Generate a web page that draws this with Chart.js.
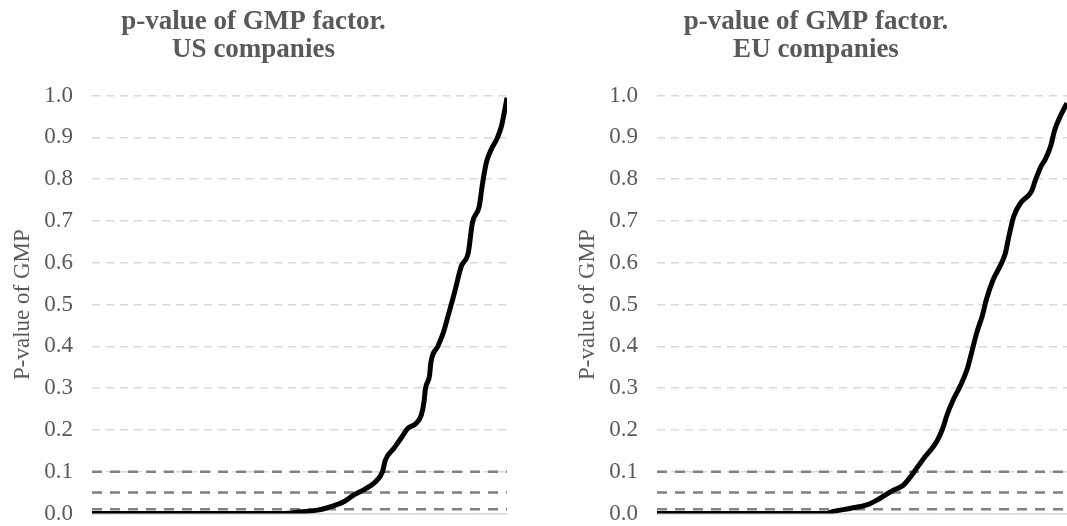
<!DOCTYPE html>
<html>
<head>
<meta charset="utf-8">
<script src="https://cdn.jsdelivr.net/npm/chart.js@4"></script>
<style>
  body { margin: 0; background: #fff; }
  #wrap { position: relative; width: 1067px; height: 526px; overflow: hidden; }
  .box { position: absolute; top: 0; height: 526px; }
</style>
</head>
<body>
<div id="wrap">
  <div class="box" style="left:0;width:510px"><canvas id="chartUS"></canvas></div>
  <div class="box" style="left:565px;width:502px"><canvas id="chartEU"></canvas></div>
</div>
<script>
// companies ranked by p-value (rank out of 300)
const usRank = [0, 138, 151, 163, 175, 182, 189, 197, 205, 210, 212, 218, 224, 228, 234, 238, 240, 241, 244, 245, 250, 254, 258, 262, 267, 272, 275, 280, 282, 285, 288, 293, 296, 298, 300];
const usP = [0, 0, 0.004, 0.008, 0.019, 0.028, 0.044, 0.058, 0.076, 0.100, 0.127, 0.155, 0.183, 0.203, 0.215, 0.235, 0.267, 0.298, 0.330, 0.362, 0.400, 0.433, 0.480, 0.528, 0.592, 0.624, 0.696, 0.736, 0.783, 0.839, 0.867, 0.899, 0.927, 0.959, 0.995];

const euRank = [0, 124, 129, 141, 154, 163, 173, 180, 188, 195, 201, 205, 209, 212, 217, 222, 227, 229, 234, 238, 241, 246, 251, 255, 257, 261, 266, 274, 277, 281, 284, 288, 291, 295, 300];
const euP = [0, 0, 0.005, 0.012, 0.021, 0.036, 0.056, 0.067, 0.099, 0.131, 0.155, 0.174, 0.203, 0.234, 0.274, 0.306, 0.346, 0.370, 0.433, 0.473, 0.512, 0.560, 0.592, 0.624, 0.656, 0.711, 0.743, 0.771, 0.799, 0.831, 0.847, 0.879, 0.918, 0.950, 0.982];

// significance levels
const thresholds = [0.1, 0.05, 0.01];
const yTicks = [0, 0.1, 0.2, 0.3, 0.4, 0.5, 0.6, 0.7, 0.8, 0.9, 1.0];

const serif = "'Liberation Serif', 'Times New Roman', serif";
const grey = '#595959';

function makeChart(id, titleLines, ranks, pvals, padRight) {
  const pts = ranks.map((r, i) => ({ x: r, y: pvals[i] }));
  const xMax = ranks[ranks.length - 1];
  const sets = [{
    data: pts,
    borderColor: '#000',
    borderWidth: 5,
    pointRadius: 0,
    cubicInterpolationMode: 'monotone'
  }];
  thresholds.forEach(t => {
    sets.push({
      data: [{ x: 0, y: t }, { x: xMax, y: t }],
      borderColor: '#808080',
      borderWidth: 2.5,
      borderDash: [10, 8],
      pointRadius: 0
    });
  });

  new Chart(document.getElementById(id), {
    type: 'line',
    data: { datasets: sets },
    options: {
      responsive: true,
      maintainAspectRatio: false,
      animation: false,
      layout: { padding: { left: 0, right: padRight, top: 0, bottom: 11 } },
      plugins: {
        legend: { display: false },
        tooltip: { enabled: false },
        title: {
          display: true,
          text: titleLines,
          color: grey,
          font: { family: serif, size: 27, weight: 'bold', lineHeight: 1.04 },
          padding: { top: 8, bottom: 31.5 }
        }
      },
      scales: {
        x: {
          type: 'linear',
          min: 0,
          max: xMax,
          afterFit: s => { s.height = 0; },
          ticks: { display: false },
          grid: { display: false, drawTicks: false },
          border: { display: true, color: '#d9d9d9', width: 1.5 }
        },
        y: {
          min: 0,
          max: 1,
          afterBuildTicks: s => { s.ticks = yTicks.map(v => ({ value: v })); },
          afterFit: s => { s.width = 92; },
          ticks: {
            color: grey,
            padding: 1,
            font: { family: serif, size: 23, lineHeight: 1 },
            callback: v => v.toFixed(1)
          },
          grid: { color: '#d9d9d9', lineWidth: 1.5, drawTicks: true, tickLength: 18, tickColor: 'rgba(0,0,0,0)' },
          border: { display: false, dash: [8, 6] },
          title: {
            display: true,
            text: 'P-value of GMP',
            color: grey,
            font: { family: serif, size: 23 },
            padding: { top: 9, bottom: 0 }
          }
        }
      }
    }
  });
}

makeChart('chartUS', ['p-value of GMP factor.', 'US companies'], usRank, usP, 3);
makeChart('chartEU', ['p-value of GMP factor.', 'EU companies'], euRank, euP, 0);
</script>
</body>
</html>
